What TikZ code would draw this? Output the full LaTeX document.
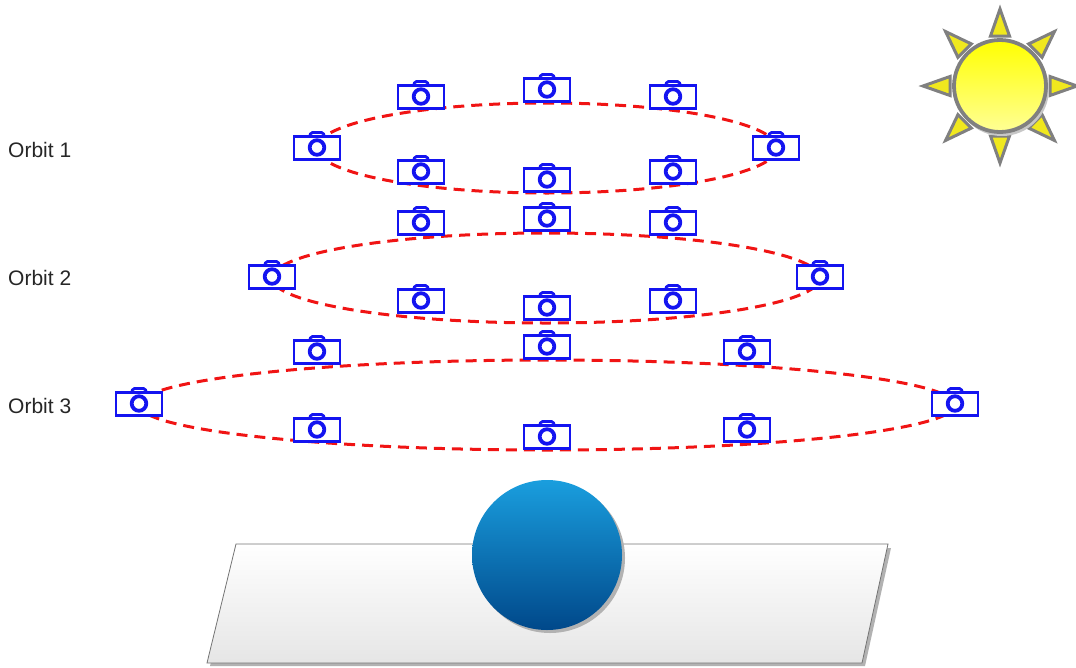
\documentclass[tikz,border=0pt]{standalone}
\usepackage{fontspec}
\setmainfont{Liberation Sans}
\usetikzlibrary{shadows}
\definecolor{camblue}{RGB}{20,20,240}
\definecolor{orbitred}{RGB}{240,20,20}
\definecolor{sunrim}{RGB}{128,128,128}
\definecolor{sunray}{RGB}{240,232,30}
\definecolor{ballhi}{RGB}{26,158,222}
\definecolor{balllo}{RGB}{0,72,138}
\tikzset{
  orbit/.style={orbitred, line width=3pt, dash pattern=on 11pt off 7pt},
  label/.style={font=\fontsize{21}{24}\selectfont, text=black!85, anchor=west, inner sep=0pt},
  cam/.pic={
    \draw[camblue, line width=2.8pt, fill=white, rounded corners=1.5pt]
      (-7.5,-11.5) -- (-6,-15.5) -- (6,-15.5) -- (7.5,-11.5);
    \draw[camblue, line width=2.8pt, fill=white] (-23,-11.5) rectangle (23,11.5);
    \draw[camblue, line width=3.8pt] (0,-0.5) circle [radius=7.3pt];
  },
  ray/.style={draw=sunrim, line width=3pt, fill=sunray, line join=miter},
}
\begin{document}
\begin{tikzpicture}[x=1pt, y=-1pt]
  \useasboundingbox (0,0) rectangle (1076,667);

  % orbit paths
  \draw[orbit] (547,148) ellipse [x radius=230pt, y radius=45pt];
  \draw[orbit] (546,278) ellipse [x radius=274pt, y radius=45pt];
  \draw[orbit] (547,405) ellipse [x radius=408pt, y radius=45pt];

  % orbit labels
  \node[label] (l1) at (8,150) {Orbit 1};
  \node[label] (l2) at (8,278) {Orbit 2};
  \node[label] (l3) at (8,406) {Orbit 3};

  % cameras, orbit 1
  \pic (c1a) at (317,148) {cam};
  \pic (c1b) at (421,97) {cam};
  \pic (c1c) at (547,90) {cam};
  \pic (c1d) at (673,97) {cam};
  \pic (c1e) at (776,148) {cam};
  \pic (c1f) at (421,172) {cam};
  \pic (c1g) at (547,180) {cam};
  \pic (c1h) at (673,172) {cam};
  % cameras, orbit 2
  \pic (c2a) at (272,277) {cam};
  \pic (c2b) at (421,223) {cam};
  \pic (c2c) at (547,219) {cam};
  \pic (c2d) at (673,223) {cam};
  \pic (c2e) at (820,277) {cam};
  \pic (c2f) at (421,301) {cam};
  \pic (c2g) at (547,308) {cam};
  \pic (c2h) at (673,301) {cam};
  % cameras, orbit 3
  \pic (c3a) at (139,404) {cam};
  \pic (c3b) at (317,352) {cam};
  \pic (c3c) at (547,347) {cam};
  \pic (c3d) at (747,352) {cam};
  \pic (c3e) at (955,404) {cam};
  \pic (c3f) at (317,430) {cam};
  \pic (c3g) at (547,437) {cam};
  \pic (c3h) at (747,430) {cam};

  % sun: eight separate rays around a shaded disc
  \begin{scope}[shift={(1000,86)}]
    \foreach \a in {0,45,...,315}
      \draw[ray, rotate=\a] (77,0) -- (50,-9.5) -- (50,9.5) -- cycle;
    \fill[black!22] (2,3) circle [radius=47pt];
    \draw[sunrim, line width=3.8pt, top color=yellow, bottom color={rgb,255:red,255;green,255;blue,150}]
      (0,0) circle [radius=46pt];
  \end{scope}

  % ground plane
  \fill[black!30] (239,548) -- (891,548) -- (865,666) -- (210,666) -- cycle;
  \draw[black!55, line width=0.8pt, top color=white, bottom color=black!10]
    (236,544) -- (888,544) -- (862,663) -- (207,663) -- cycle;

  % object
  \fill[black!30] (550,558) circle [radius=75pt];
  \node[circle, minimum size=150pt, inner sep=0pt, top color=ballhi, bottom color=balllo] (ball) at (547,555) {};
\end{tikzpicture}
\end{document}
